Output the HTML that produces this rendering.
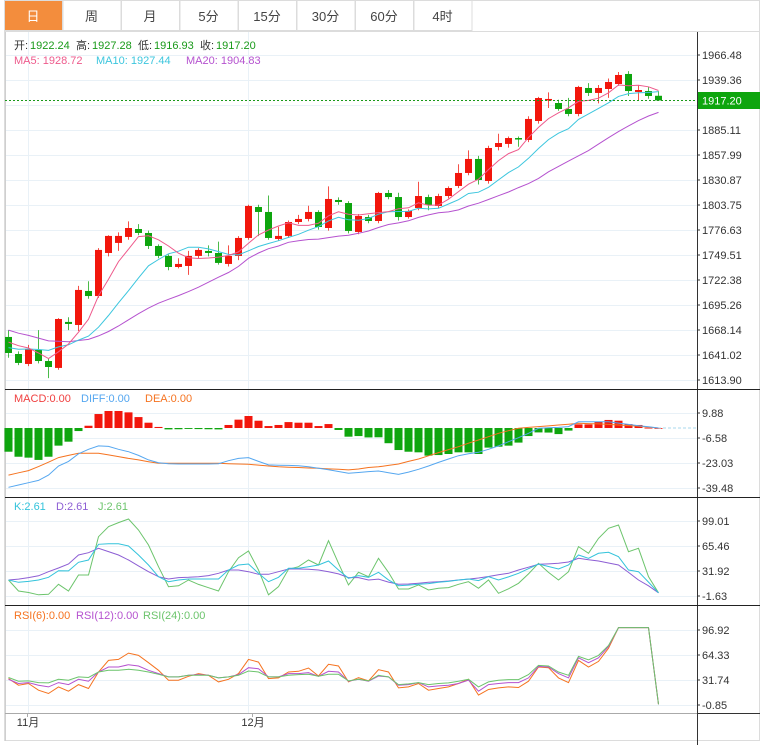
<!DOCTYPE html>
<html><head><meta charset="utf-8">
<style>
html,body{margin:0;padding:0;background:#fff;}
body{width:760px;height:745px;overflow:hidden;font-family:"Liberation Sans","Noto Sans CJK SC",sans-serif;}
svg text{font-family:"Liberation Sans","Noto Sans CJK SC",sans-serif;}
</style></head>
<body>
<svg id="chart" width="760" height="745" xmlns="http://www.w3.org/2000/svg">
 <g id="tabs"></g>
 <g id="grid"></g>
 <g id="marks"></g>
 <g id="labels"></g>
</svg>
<script>
const opens=[1660.6,1642.1,1631.3,1646.5,1634.5,1627.0,1676.9,1673.6,1710.5,1705.0,1751.7,1762.6,1769.1,1777.7,1773.4,1759.3,1748.5,1736.5,1737.6,1748.5,1753.9,1751.7,1739.8,1748.5,1768.0,1801.6,1796.2,1766.9,1770.2,1785.3,1788.6,1796.2,1778.8,1809.2,1805.9,1774.5,1790.7,1786.4,1816.8,1812.4,1790.7,1800.5,1812.4,1802.7,1813.5,1824.4,1838.5,1853.7,1829.8,1866.7,1870.0,1876.4,1874.3,1894.9,1917.7,1914.4,1907.9,1902.5,1930.7,1925.3,1929.6,1935.0,1945.9,1926.4,1927.4,1922.24];
const closes=[1643.2,1632.4,1647.6,1634.5,1628.0,1680.1,1674.7,1711.6,1705.0,1755.0,1770.2,1770.2,1778.8,1773.4,1759.3,1748.5,1736.5,1739.8,1748.5,1755.0,1751.7,1740.9,1748.5,1768.0,1802.7,1796.2,1768.0,1770.2,1785.3,1788.6,1796.2,1779.9,1810.3,1807.0,1775.6,1791.8,1786.4,1816.8,1812.4,1790.7,1797.3,1813.5,1803.8,1813.5,1822.2,1838.5,1853.7,1830.9,1865.6,1871.0,1876.4,1875.4,1897.1,1919.8,1918.8,1907.9,1902.5,1931.8,1925.3,1930.7,1937.2,1944.8,1927.4,1928.5,1922.0,1917.20];
const highs=[1668,1645,1652,1668,1637,1681,1682,1716,1721,1757,1771,1774,1786,1783,1776,1761,1750,1746,1754,1757,1760,1764,1760,1770,1804,1804,1814,1780,1787,1793,1803,1798,1824,1812,1808,1794,1793,1818,1820,1817,1799,1829,1815,1816,1824,1848,1863,1857,1868,1881,1878,1878,1900,1921,1926,1918,1920,1933,1936,1934,1941,1948,1949,1934,1932,1927.28];
const lows=[1638,1630,1629,1632,1616,1625,1668,1667,1702,1703,1748,1754,1766,1771,1756,1746,1733,1735,1728,1746,1748,1739,1737,1744,1766,1770,1766,1765,1768,1783,1786,1777,1776,1804,1773,1772,1784,1784,1810,1787,1789,1798,1798,1800,1811,1822,1836,1826,1827,1863,1866,1867,1872,1892,1909,1906,1900,1900,1922,1914,1920,1933,1922,1917,1919,1916.93];
const priorCloses=[1700,1695,1692,1690,1688,1685,1683,1682,1680,1675,1650,1645,1640,1638,1642,1652,1660,1662,1658];
const priceTicks=[1966.48,1939.36,1912.23,1885.11,1857.99,1830.87,1803.75,1776.63,1749.51,1722.38,1695.26,1668.14,1641.02,1613.90];
const priceTickLabels=["1966.48","1939.36","","1885.11","1857.99","1830.87","1803.75","1776.63","1749.51","1722.38","1695.26","1668.14","1641.02","1613.90"];
const macdHist=[-15.6,-18.9,-19.5,-21,-18.9,-11.6,-9,-2,1.5,9.2,11.2,11.2,10.3,7.2,3.5,0.7,-0.9,-0.8,-0.6,-0.7,-0.8,-0.9,2,5.5,7.9,4.8,1.3,2,3.9,3.5,3.5,1.3,2.6,-1.3,-5.7,-5.3,-6.2,-6.1,-10,-14.5,-15.6,-16,-18.2,-17.8,-17.1,-16,-16,-17.1,-12.9,-12.3,-11.6,-9.6,-5.3,-2.9,-3,-4,-1.7,2.4,2.4,4.1,5.3,4.8,2.6,2,0.2,0];
const diffVals=[-39,-37.5,-36,-34.5,-31,-25,-22,-17,-14,-11.8,-12.1,-14,-15.6,-18,-21,-22.8,-23.5,-23.7,-23.7,-23.7,-23.7,-23.5,-21.5,-20,-19.5,-22,-24.3,-24.5,-24.6,-24.8,-25.5,-26.5,-27.5,-28.6,-29.8,-29.3,-28.7,-28.3,-29.4,-30.5,-29,-27.2,-25,-22.6,-20.4,-18.2,-17,-16,-14,-11.8,-9,-6.4,-3.5,-0.2,0.2,0.4,0.9,4.1,4.1,4.1,4.1,3.2,2.4,1.5,0.8,0];
const deaVals=[-31,-29.5,-28,-25.4,-22.5,-19.5,-18,-16.6,-16.6,-16.6,-17.7,-18.8,-20,-21,-22.2,-23.2,-23.2,-23.2,-23.2,-23.2,-23.2,-23.2,-23.5,-23.7,-23.9,-24.4,-25,-25.5,-25.8,-26,-26.3,-26.5,-26.9,-27.2,-27.6,-27,-26,-25.5,-24.6,-23.7,-22,-20.4,-18.3,-16.2,-14.2,-12.3,-10,-7.9,-5.7,-3.5,-1.8,-0.2,0.4,0.9,1.4,2,2.5,3.1,2.9,2.7,2.4,2,1.6,1.2,0.6,0];
const macdTicks=[9.88,-6.58,-23.03,-39.48];
const kVals=[19.8,16.7,18,19.8,23.5,32.3,32,43.6,46.7,67.7,68.4,68.4,65.5,53.4,40,24.3,17.6,19.8,21.2,21.2,21.2,21.2,33.3,40,41.3,28.8,17.6,23.5,35.5,35.5,37.7,40,45.3,33.3,22.1,25.7,23.5,30.2,20,12.2,13,14.1,15,16.7,18,19.8,21.2,19,24.3,19.8,24,28.8,35,41.3,38,34.6,40,53.4,49,55.7,57,51.1,33.3,31,17,2.61];
const dVals=[19.8,21,23,25.5,31,36,41.3,53.4,56.5,62.4,57.9,53.4,46.7,38.7,31,24.3,21.2,23,23.5,24.3,25.7,28.8,33.3,33.3,31,27.5,27.5,31,34.6,34.6,34.2,33.3,31,28,23,23,19.8,21,17,14.1,14.5,15.5,16.7,17.5,18.5,19.8,21,22.5,24.5,27,28.8,33.3,37,40.9,41.5,42.2,44,49,47,45.4,42.7,40,30,19.8,12,2.61];
const jVals=[19.8,5.1,3,0,0.7,14.1,5.1,26.5,26.5,78,91.4,96.8,101.7,87,66.8,37.7,10.9,12,19.8,14,9.5,5.1,31,49.8,58.8,33.3,0,10.9,34.2,37.7,46.7,40,72.6,42.2,13.2,30.2,24.3,49,30,7.8,7.8,13.2,6.4,8.7,9.6,14.1,17.6,8.7,19.8,2,8,15.4,28,42.2,30,19.8,31,64.6,55.7,75.7,89.2,93.6,57.8,62.4,24.3,2.61];
const kdjTicks=[99.01,65.46,31.92,-1.63];
const rsi6=[33.6,25,27.2,18.5,14.2,22.8,17.2,25.8,20.7,42.2,57.3,58.6,66.8,63.8,54.3,44.4,31.5,31.5,36.6,40.1,37.9,29.3,32.7,40.1,58.6,55.1,33.6,34.5,42.2,43.1,47.4,37,52.2,50,29.3,34.9,30.6,45.2,42.2,21.5,22.8,27.2,18.5,20.7,22.8,27.2,32.7,12.1,19.4,21.5,22.8,22,30.2,48.7,47.8,34.5,28.4,57.3,48.7,56,73.2,100,100,100,100,0];
const rsi12=[32.7,27.2,28.4,25,22.8,28.4,25.8,32.7,30.2,42.2,48.7,48.7,51.7,50,44.4,40.1,35.8,35.8,37.9,38.8,37.9,34.5,35.8,38.8,47.8,46.5,35.8,35.8,40.1,40.1,41.4,36.6,43.1,42.2,30.2,32.7,30.2,37,35.8,25,25.8,28.4,22.8,24.1,25,27.2,31.5,17.2,25.8,27.2,28.4,28.4,34.5,49.5,48.7,40.1,34.5,60.7,54.3,60.7,75.4,100,100,100,100,0];
const rsi24=[35,30.2,30.6,28.4,28,32.7,31.5,35.8,35,42.2,44.4,44.4,45.7,44.4,42.2,39.2,35.8,35.8,37.9,37.9,37.9,34.5,35.8,37.9,43.5,42.2,35.8,35.8,37.9,38.8,39.2,36.6,39.2,39.2,30.6,32.7,30.6,37.9,35.8,25.8,26.7,28.4,25.8,27.2,28,30.2,32.7,22.8,29.3,31.5,32.3,32.3,38.8,50.8,50,42.2,37.9,62.5,58.1,63.8,76.7,100,100,100,100,0];
const rsiTicks=[96.92,64.33,31.74,-0.85];
const tabLabels=["日","周","月","5分","15分","30分","60分","4时"];

const NS="http://www.w3.org/2000/svg";
function mk(parent,tag,attrs,text){const e=document.createElementNS(NS,tag);for(const k in attrs)e.setAttribute(k,attrs[k]);if(text!==undefined)e.textContent=text;parent.appendChild(e);return e;}
const X0=5,XR=697;
const xOf=i=>8+10*i;
const yP=p=>55+(1966.48-p)*(325/352.58);
const yM=v=>413+(9.88-v)*(75/49.36);
const yK=v=>521+(99.01-v)*(75/100.64);
const yR=v=>630+(96.92-v)*(75/97.77);
const RED="#f2160c",GREEN="#0ea50e";
const tabs=document.getElementById('tabs'),grid=document.getElementById('grid'),marks=document.getElementById('marks'),labels=document.getElementById('labels');

let fr=mk(grid,'rect',{x:4.5,y:0.5,width:755,height:740,fill:'none',stroke:'#dcdcdc'});


tabLabels.forEach((t,i)=>{
  const tx=4+i*58.5;
  const r=mk(tabs,'rect',{x:tx+0.5,y:0.5,width:58,height:30,fill:i===0?'#f38d3d':'#fff',stroke:'#dcdcdc'});
  
  
  const tt=mk(tabs,'text',{x:tx+29,y:21,'text-anchor':'middle','font-size':13,fill:i===0?'#fff':'#444'},t);
  
  
});
mk(grid,'line',{x1:4,y1:31.5,x2:760,y2:31.5,stroke:'#dcdcdc'});
const hg=[];priceTicks.forEach(p=>hg.push(yP(p)));
macdTicks.forEach(v=>hg.push(yM(v)));kdjTicks.forEach(v=>hg.push(yK(v)));rsiTicks.forEach(v=>hg.push(yR(v)));
hg.forEach(y=>mk(grid,'line',{x1:X0,y1:Math.round(y)+0.5,x2:XR,y2:Math.round(y)+0.5,stroke:'#e9f1f7'}));
[28,248].forEach(x=>mk(grid,'line',{x1:x+0.5,y1:32,x2:x+0.5,y2:713,stroke:'#e9f1f7'}));
mk(grid,'line',{x1:X0+0.5,y1:32,x2:X0+0.5,y2:741,stroke:'#cfcfcf'});
mk(grid,'line',{x1:XR+0.5,y1:32,x2:XR+0.5,y2:745,stroke:'#333'});
[389.5,497.5,605.5].forEach(y=>mk(grid,'line',{x1:X0,y1:y,x2:760,y2:y,stroke:'#222'}));
mk(grid,'line',{x1:X0,y1:713.5,x2:XR,y2:713.5,stroke:'#aaa'});
mk(grid,'line',{x1:XR,y1:713.5,x2:760,y2:713.5,stroke:'#333'});

priceTicks.forEach((p,i)=>{if(!priceTickLabels[i])return;const t=mk(labels,'text',{x:702,y:yP(p)+4,'font-size':11,fill:'#333'},priceTickLabels[i]);mk(labels,'line',{x1:XR,y1:yP(p),x2:XR+3,y2:yP(p),stroke:'#333'});});
macdTicks.forEach(v=>{const t=mk(labels,'text',{x:702,y:yM(v)+4,'font-size':11,fill:'#333'},v.toFixed(2));mk(labels,'line',{x1:XR,y1:yM(v),x2:XR+3,y2:yM(v),stroke:'#333'});});
kdjTicks.forEach(v=>{const t=mk(labels,'text',{x:702,y:yK(v)+4,'font-size':11,fill:'#333'},v.toFixed(2));mk(labels,'line',{x1:XR,y1:yK(v),x2:XR+3,y2:yK(v),stroke:'#333'});});
rsiTicks.forEach(v=>{const t=mk(labels,'text',{x:702,y:yR(v)+4,'font-size':11,fill:'#333'},v.toFixed(2));mk(labels,'line',{x1:XR,y1:yR(v),x2:XR+3,y2:yR(v),stroke:'#333'});});
[["11月",28],["12月",253]].forEach(([s,x])=>{const t=mk(labels,'text',{x:x,y:726,'text-anchor':'middle','font-size':11,fill:'#333'},s);mk(labels,'line',{x1:x-0.5,y1:713,x2:x-0.5,y2:717,stroke:'#aaa'});});

closes.forEach((c,i)=>{
  const o=opens[i],up=c>=o,col=up?RED:GREEN,x=xOf(i);
  const g=mk(marks,'g',{});
  
  
  mk(g,'line',{x1:x+0.5,y1:yP(highs[i]),x2:x+0.5,y2:yP(lows[i]),stroke:col,'stroke-width':1,opacity:0.75});
  const top=yP(Math.max(o,c)),bot=yP(Math.min(o,c));
  mk(g,'rect',{x:x-3,y:top,width:7,height:Math.max(1.5,bot-top),fill:col});
});
const allC=priorCloses.concat(closes);
function ma(n){return closes.map((c,i)=>{const j=i+priorCloses.length;let s=0;for(let k=j-n+1;k<=j;k++)s+=allC[k];return s/n;});}
function poly(vals,yf,col,name,w){const pts=vals.map((v,i)=>xOf(i)+0.5+','+yf(v).toFixed(1)).join(' ');const p=mk(marks,'polyline',{points:pts,fill:'none',stroke:col,'stroke-width':w||1});return p;}
poly(ma(20),yP,'#b552cf','ma20-line');
poly(ma(10),yP,'#3cc6de','ma10-line');
poly(ma(5),yP,'#ee5a8c','ma5-line');
const lastY=Math.round(yP(closes[closes.length-1]))+0.5;
mk(marks,'line',{x1:X0,y1:lastY,x2:XR,y2:lastY,stroke:'#1a9a1a','stroke-dasharray':'2,2'});
const pb=mk(labels,'rect',{x:698,y:lastY-8.5,width:62,height:17,fill:'#0ea50e'});


mk(labels,'text',{x:702,y:lastY+4,'font-size':11,fill:'#fff'},closes[closes.length-1].toFixed(2));

const z=yM(0);
macdHist.forEach((v,i)=>{const x=xOf(i),y=yM(v);const r=mk(marks,'rect',{x:x-3.5,y:Math.min(y,z),width:8,height:Math.max(0.8,Math.abs(y-z)),fill:v>=0?RED:GREEN});});
mk(marks,'line',{x1:xOf(closes.length-1),y1:z,x2:XR,y2:z,stroke:'#a8d8ee','stroke-dasharray':'3,2'});
poly(deaVals,yM,'#f57320','dea-line');
poly(diffVals,yM,'#55a7f0','diff-line');
poly(jVals,yK,'#6cc46c','j-line');
poly(dVals,yK,'#8d5ed4','d-line');
poly(kVals,yK,'#33c3db','k-line');
poly(rsi6,yR,'#f57320','rsi6-line');
poly(rsi12,yR,'#b552cf','rsi12-line');
poly(rsi24,yR,'#6cc46c','rsi24-line');

function legend(y,items,name){let x=14;const g=mk(labels,'g',{});items.forEach(([t,c,gap])=>{mk(g,'text',{x:x,y:y,'font-size':11,fill:c},t);x+=gap;});}
legend(49,[["开:","#333",16],["1922.24","#1a9a1a",46],["高:","#333",16],["1927.28","#1a9a1a",46],["低:","#333",16],["1916.93","#1a9a1a",46],["收:","#333",16],["1917.20","#1a9a1a",50]],'ohlc-legend');
legend(64,[["MA5: 1928.72","#ee5a8c",82],["MA10: 1927.44","#3cc6de",90],["MA20: 1904.83","#b552cf",90]],'ma-legend');
legend(402,[["MACD:0.00","#f04040",67],["DIFF:0.00","#55a7f0",64],["DEA:0.00","#f57320",70]],'macd-legend');
legend(510,[["K:2.61","#33c3db",42],["D:2.61","#8d5ed4",42],["J:2.61","#6cc46c",50]],'kdj-legend');
legend(619,[["RSI(6):0.00","#f57320",62],["RSI(12):0.00","#b552cf",67],["RSI(24):0.00","#6cc46c",70]],'rsi-legend');
</script>
</body></html>
